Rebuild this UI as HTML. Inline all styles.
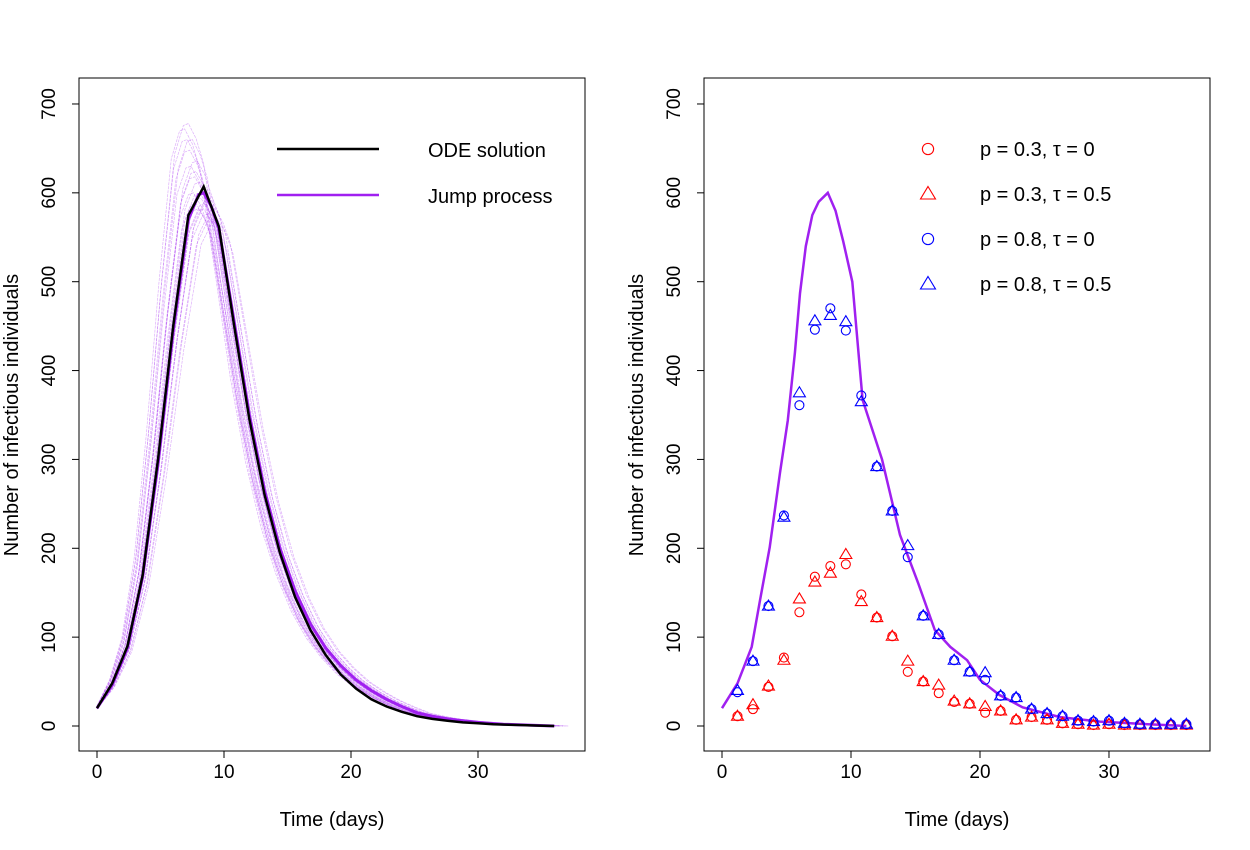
<!DOCTYPE html>
<html><head><meta charset="utf-8"><style>
body{margin:0;background:#fff;}
svg{display:block;font-family:"Liberation Sans",sans-serif;}
</style></head><body>
<svg id="c" width="1250" height="850"></svg>
<script>
const odeTimes=[0,1.2,2.4,3.6,4.8,6.0,7.2,8.4,9.6,10.8,12.0,13.2,14.4,15.6,16.8,18.0,19.2,20.4,21.6,22.8,24.0,25.2,26.4,27.6,28.8,30.0,31.2,32.4,33.6,34.8,36.0];
const odeValues=[20,48,90,170,300,450,575,607,562,450,345,260,195,145,108,80,58,42,30,22,16,11,8,6,4,3,2,1.5,1,0.5,0];
const leftJumpTimes=[0,1.2,2.4,3.6,4.8,6.0,7.2,8.0,8.4,9.0,9.6,10.8,12.0,13.2,14.4,15.6,16.8,18.0,19.2,20.4,21.6,22.8,24.0,25.2,26.4,27.6,28.8,30.0,32,34,36];
const leftJumpValues=[20,46,88,168,295,445,570,598,600,585,560,455,350,265,200,152,115,88,68,52,40,30,22,15,11,8,6,4,2,1,0];
const jumpTimes=[0,1.2,2.3,2.95,3.7,4.5,5.1,5.65,6.05,6.5,7.0,7.5,8.2,8.8,9.4,10.1,10.9,12.4,13.8,15.2,16.5,17.7,19.0,20.0,21.5,23.3,26.2,29.3,33,36];
const jumpValues=[20,48,89,142,201,285,344,420,487,540,575,590,600,580,545,500,367,300,215,161,108,89,74,52,35,21,10,5,2,0];
const ensShift=[-1.5,-1.3,-1.1,-1.0,-0.9,-0.8,-0.7,-0.6,-0.5,-0.4,-0.3,-0.2,-0.1,0,0.1,0.2,0.3,0.5,0.7,0.9,-1.2,-0.6,-0.3,0.4,1.1];
const ensScale=[1.12,1.1,1.08,1.05,1.1,1.0,1.03,0.98,1.06,0.97,1.02,0.99,1.0,0.97,0.98,1.01,0.96,0.99,0.95,0.97,1.13,1.04,1.0,0.98,0.95];
const markTimes=[1.2,2.4,3.6,4.8,6.0,7.2,8.4,9.6,10.8,12.0,13.2,14.4,15.6,16.8,18.0,19.2,20.4,21.6,22.8,24.0,25.2,26.4,27.6,28.8,30.0,31.2,32.4,33.6,34.8,36.0];
const redCirc=[11,19,44,77,128,168,180,182,148,122,101,61,50,37,27,25,15,17,7,10,7,3,2,1,2,1,1,1,1,1];
const redTri=[11,24,45,74,143,162,172,193,140,122,101,73,50,46,28,25,22,17,7,10,7,3,2,1,2,1,1,1,1,1];
const blueCirc=[38,73,135,237,361,446,470,445,372,292,242,190,124,103,74,61,52,34,32,19,14,11,6,5,6,3,2,2,2,2];
const blueTri=[40,73,135,235,375,456,462,455,365,292,242,203,124,103,74,61,60,34,32,19,14,11,6,5,6,3,2,2,2,2];
const xTicks=[0,10,20,30];
const yTicks=[0,100,200,300,400,500,600,700];

const NS="http://www.w3.org/2000/svg";
const svg=document.getElementById('c');
function el(tag,attrs,parent,text){const e=document.createElementNS(NS,tag);for(const k in attrs)e.setAttribute(k,attrs[k]);if(text!==undefined)e.textContent=text;(parent||svg).appendChild(e);return e;}
function makePanel(px0,name){
  const g=el('g',{});
  
  
  const X=t=>px0+18+t*12.7*(name==='right-panel'?1.0157:1);
  const Y=v=>726-v*0.8886;
  const box=el('rect',{x:px0,y:78,width:506,height:673,fill:'none',stroke:'#000','stroke-width':1},g);
  
  const xa=el('g',{},g);
  el('line',{x1:X(0),x2:X(30),y1:751,y2:751,stroke:'#000'},xa);
  xTicks.forEach(t=>{el('line',{x1:X(t),x2:X(t),y1:751,y2:758,stroke:'#000'},xa);
    const tx=el('text',{x:X(t),y:778,'font-size':19,'text-anchor':'middle'},xa,String(t));});
  const xt=el('text',{x:px0+253,y:826,'font-size':20,'text-anchor':'middle'},g,'Time (days)');
  
  const ya=el('g',{},g);
  el('line',{x1:px0,x2:px0,y1:Y(0),y2:Y(700),stroke:'#000'},ya);
  yTicks.forEach(v=>{el('line',{x1:px0,x2:px0-7,y1:Y(v),y2:Y(v),stroke:'#000'},ya);
    const tx=el('text',{x:0,y:0,'font-size':19,'text-anchor':'middle',transform:`translate(${px0-24},${Y(v)}) rotate(-90)`},ya,String(v));});
  const yt=el('text',{x:0,y:0,'font-size':20,'text-anchor':'middle',transform:`translate(${px0-61},415) rotate(-90)`},g,'Number of infectious individuals');
  
  return {g,X,Y};
}
function pathFrom(ts,vs,X,Y){return ts.map((t,i)=>(i?'L':'M')+X(t).toFixed(1)+','+Y(vs[i]).toFixed(1)).join('');}

// left
const L=makePanel(79,'left-panel');
ensShift.forEach((s,k)=>{
  const p=el('path',{d:pathFrom(leftJumpTimes.map(t=>Math.max(0,t+s*(Math.min(t,8)/8))),leftJumpValues.map(v=>v*ensScale[k]),L.X,L.Y),fill:'none',stroke:'#a020f0','stroke-width':0.7,'stroke-opacity':0.35,'stroke-dasharray':'3,1'},L.g);
  
});
const lj=el('path',{d:pathFrom(leftJumpTimes,leftJumpValues,L.X,L.Y),fill:'none',stroke:'#a020f0','stroke-width':3},L.g);

const lo=el('path',{d:pathFrom(odeTimes,odeValues,L.X,L.Y),fill:'none',stroke:'#000','stroke-width':2.5},L.g);

const lg=el('g',{},L.g);
el('line',{x1:277,x2:379,y1:149,y2:149,stroke:'#000','stroke-width':2.5},lg);
el('line',{x1:277,x2:379,y1:195,y2:195,stroke:'#a020f0','stroke-width':2.5},lg);
el('text',{x:428,y:157,'font-size':20},lg,'ODE solution');
el('text',{x:428,y:203,'font-size':20},lg,'Jump process');

// right
const R=makePanel(704,'right-panel');
const rj=el('path',{d:pathFrom(jumpTimes,jumpValues,R.X,R.Y),fill:'none',stroke:'#a020f0','stroke-width':2.5},R.g);

function circ(x,y,c,g,s){s=s||1;return el('circle',{cx:x,cy:y,r:4.5*s,fill:'none',stroke:c,'stroke-width':1.1},g);}
function tri(x,y,c,g,s){s=s||1;return el('path',{d:`M${x},${y-6*s}L${x+6*s},${y+4*s}L${x-6*s},${y+4*s}Z`,fill:'none',stroke:c,'stroke-width':1.1},g);}
[[redCirc,'red',circ,'red-circle-series'],[redTri,'red',tri,'red-triangle-series'],[blueCirc,'blue',circ,'blue-circle-series'],[blueTri,'blue',tri,'blue-triangle-series']].forEach(([vals,c,f,nm])=>{
  const g=el('g',{},R.g);
  vals.forEach((v,i)=>{const m=f(R.X(markTimes[i]),R.Y(v),c,g);});
});
const rg=el('g',{},R.g);
const lab=[['0.3','0','red',circ],['0.3','0.5','red',tri],['0.8','0','blue',circ],['0.8','0.5','blue',tri]];
lab.forEach((l,i)=>{const y=149+i*45;l[3](928,y,l[2],rg,1.25);
  el('text',{x:980,y:y+7,'font-size':20},rg,`p = ${l[0]}, τ = ${l[1]}`);});
</script>
</body></html>
